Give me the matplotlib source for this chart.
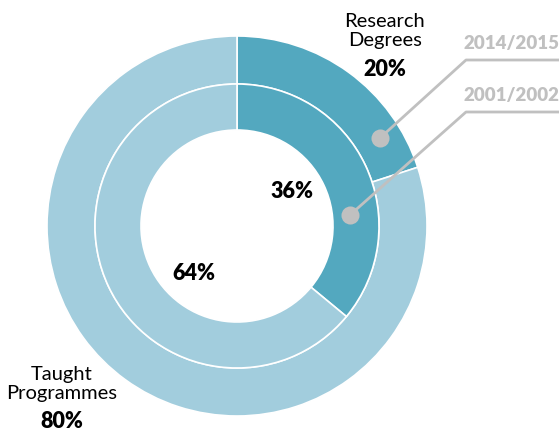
import matplotlib.pyplot as plt

categories = ['Research\nDegrees', 'Taught\nProgrammes']
years = ['2014/2015', '2001/2002']
outer_vals = [20, 80]   # 2014/2015
inner_vals = [36, 64]   # 2001/2002

dark = '#53a8bf'
light = '#a2cddd'
grey = '#c0c0c0'

plt.rcParams['font.family'] = ['Lato', 'DejaVu Sans']

fig = plt.figure(figsize=(5.59, 4.30), dpi=100)
ax = fig.add_axes([0, 0, 1, 1])

cx, cy = 237, 430 - 226

ax.pie(outer_vals, radius=190, center=(cx, cy), startangle=90, counterclock=False,
       colors=[dark, light], wedgeprops=dict(width=48, edgecolor='white', linewidth=1.2),
       frame=True)
ax.pie(inner_vals, radius=142, center=(cx, cy), startangle=90, counterclock=False,
       colors=[dark, light], wedgeprops=dict(width=46, edgecolor='white', linewidth=1.2),
       frame=True)
ax.set_xlim(0, 559)
ax.set_ylim(0, 430)
ax.set_aspect('equal')
ax.axis('off')

# category labels with outer ring values
ax.text(385, 430 - 31, categories[0], ha='center', va='center', fontsize=14.5,
        linespacing=1.2)
ax.text(385, 430 - 69, f'{outer_vals[0]}%', ha='center', va='center',
        fontsize=15.5, fontweight='heavy')
ax.text(62, 430 - 384, categories[1], ha='center', va='center', fontsize=14.5,
        linespacing=1.2)
ax.text(62, 430 - 421, f'{outer_vals[1]}%', ha='center', va='center',
        fontsize=15.5, fontweight='heavy')

# inner ring values
ax.text(292, 430 - 192, f'{inner_vals[0]}%', ha='center', va='center',
        fontsize=15.5, fontweight='heavy')
ax.text(194, 430 - 274, f'{inner_vals[1]}%', ha='center', va='center',
        fontsize=15.5, fontweight='heavy')

# year call-outs
for (dx, dy), (kx, ky), year in [((380, 138), (466, 60), years[0]),
                                 ((350, 215), (466, 112), years[1])]:
    ax.plot([dx, kx, 559], [430 - dy, 430 - ky, 430 - ky], color=grey, lw=2,
            solid_capstyle='butt')
    ax.plot(dx, 430 - dy, 'o', color=grey, ms=13, mec='none')
    ax.text(511, 430 - ky + 16, year, ha='center', va='center', fontsize=13.5,
            fontweight='heavy', color=grey)

fig.savefig('out.png', dpi=100)
